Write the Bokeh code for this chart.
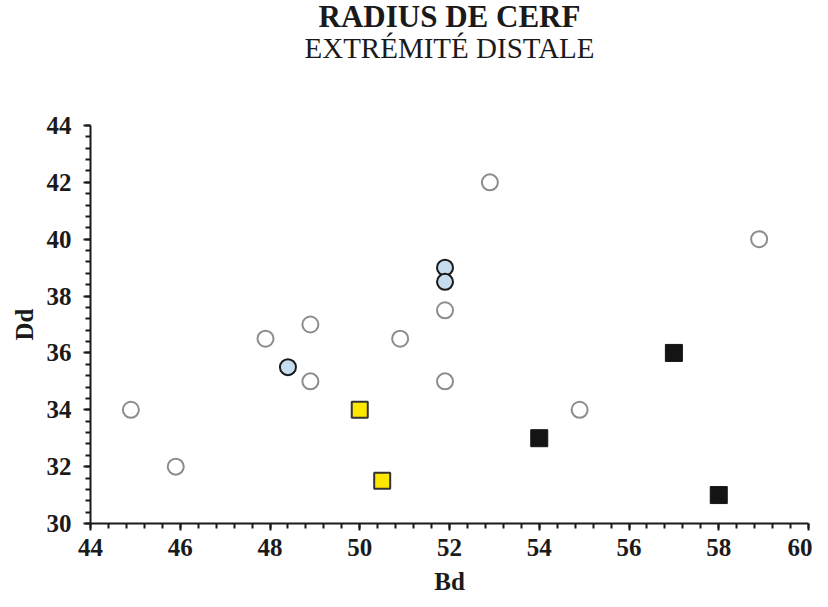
from bokeh.plotting import figure
from bokeh.models import Title, Range1d, SingleIntervalTicker
from bokeh.embed import file_html
from bokeh.resources import INLINE

# Data
open_x = [44.9, 45.9, 47.9, 48.9, 48.9, 50.9, 51.9, 51.9, 52.9, 54.9, 58.9]
open_y = [34, 32, 36.5, 37, 35, 36.5, 37.5, 35, 42, 34, 40]
blue_x = [48.4, 51.9, 51.9]
blue_y = [35.5, 39, 38.5]
yellow_x = [50, 50.5]
yellow_y = [34, 31.5]
black_x = [54, 57, 58]
black_y = [33, 36, 31]

FONT = "Liberation Serif"

p = figure(width=812, height=597, output_backend="svg", toolbar_location=None,
           x_range=Range1d(44, 60), y_range=Range1d(30, 44),
           title="RADIUS DE CERF",
           min_border_left=90, min_border_right=4, min_border_bottom=60,
           min_border_top=0)
p.title.text_font = FONT
p.title.text_font_style = "bold"
p.title.text_font_size = "31px"
p.title.align = "center"
p.title.offset = 6
p.title.text_color = "#1a1a1a"
p.title.standoff = -8
# blank spacer between subtitle and plot frame (innermost)
p.add_layout(Title(text=" ", text_font_size="2px", standoff=58), "above")
p.add_layout(Title(text="EXTRÉMITÉ DISTALE", align="center", text_font=FONT,
                   text_font_size="29px", text_font_style="normal", offset=1,
                   text_color="#1a1a1a", standoff=0), "above")

p.grid.visible = False
p.outline_line_color = None
p.background_fill_color = "white"
p.border_fill_color = "white"

for ax, lab in ((p.xaxis, "Bd"), (p.yaxis, "Dd")):
    ax.axis_label = lab
    ax.axis_label_text_font = FONT
    ax.axis_label_text_font_style = "bold"
    ax.axis_label_text_font_size = "25px"
    ax.axis_label_text_color = "#1a1a1a"
    ax.major_label_text_font = FONT
    ax.major_label_text_font_style = "bold"
    ax.major_label_text_font_size = "25px"
    ax.major_label_text_color = "#1a1a1a"
    ax.axis_line_color = "#1a1a1a"
    ax.axis_line_width = 2
    ax.major_tick_line_color = "#1a1a1a"
    ax.major_tick_line_width = 2
    ax.minor_tick_line_color = "#1a1a1a"
    ax.minor_tick_line_width = 2
    ax.major_tick_out = 7
    ax.major_tick_in = 0
    ax.minor_tick_out = 5
    ax.minor_tick_in = 0
    ax.ticker = SingleIntervalTicker(interval=2, num_minor_ticks=5)

p.xaxis.major_label_standoff = 8
p.xaxis.axis_label_standoff = 9
p.yaxis.major_label_standoff = 12
p.yaxis.axis_label_standoff = 6

p.scatter(open_x, open_y, marker="circle", size=16, fill_color="white",
          line_color="#8c8c8c", line_width=2)
p.scatter(blue_x, blue_y, marker="circle", size=16, fill_color="#c6ddf0",
          line_color="#1a1a1a", line_width=2)
p.scatter(yellow_x, yellow_y, marker="square", size=16, fill_color="#ffe800",
          line_color="#333333", line_width=2)
p.scatter(black_x, black_y, marker="square", size=17, fill_color="#141414",
          line_color="#141414", line_width=1)

open("out.html", "w").write(file_html(p, INLINE))
